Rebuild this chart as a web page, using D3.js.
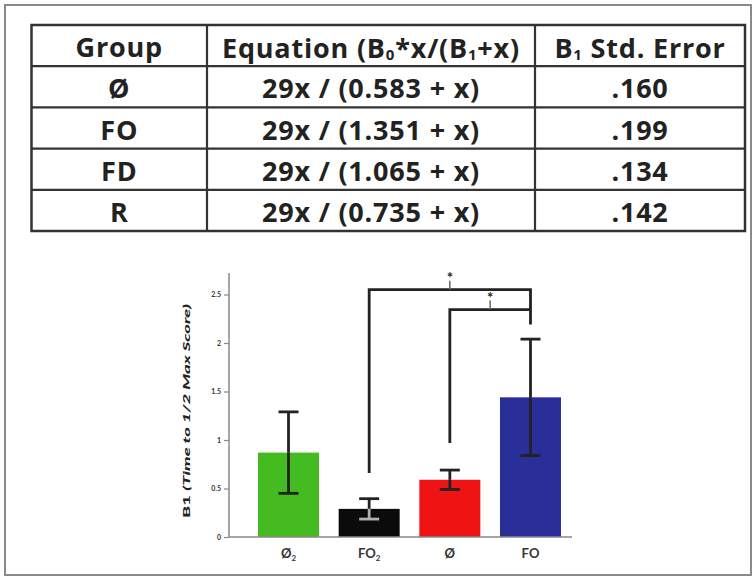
<!DOCTYPE html>
<html><head><meta charset="utf-8">
<script src="https://cdn.jsdelivr.net/npm/d3@7/dist/d3.min.js"></script>
<style>html,body{margin:0;padding:0;background:#fff}svg{display:block}</style>
</head><body>
<svg id="c" width="756" height="576"></svg>
<script>
// ---- data ----
const tableGroups = ["Ø", "FO", "FD", "R"];
const tableB0 = 29;
const tableB1 = [0.583, 1.351, 1.065, 0.735];
const tableSE = [".160", ".199", ".134", ".142"];

const barCategories = ["Ø₂", "FO₂", "Ø", "FO"];
const barMeans = [0.87, 0.29, 0.59, 1.44];
const barErrors = [0.42, 0.105, 0.10, 0.60];
const yTicks = [0, 0.5, 1, 1.5, 2, 2.5];
const yTickLabels = ["0", "0.5", "1", "1.5", "2", "2.5"];
const brackets = [
  {from: "FO₂", to: "FO", level: 2.55, leftEnd: 0.66, rightEnd: 2.19, label: "*"},
  {from: "Ø", to: "FO", level: 2.345, leftEnd: 0.97, rightEnd: 2.345, label: "*"}
];

// ---- styles ----
const barColors = ["#45bb22", "#0b0b0b", "#ee1414", "#2a2e98"];
const ink = "#222";
const svg = d3.select("#c");
const font = "Lato, 'Open Sans', sans-serif";
const tableFont = "'Open Sans', Lato, sans-serif";

// outer frame
svg.append("rect").attr("x", 5).attr("y", 5).attr("width", 746).attr("height", 570)
  .attr("fill", "#fff").attr("stroke", "#8a8a8a").attr("stroke-width", 2);

// ---- table ----
const tX0 = 31.5, tX1 = 745, tY0 = 25, rowH = 41.2;
const colEdges = [tX0, 207, 535, tX1];
const nRows = tableGroups.length + 1;
const tg = svg.append("g");
tg.append("rect").attr("x", tX0).attr("y", tY0).attr("width", tX1 - tX0).attr("height", rowH * nRows)
  .attr("fill", "none").attr("stroke", "#333").attr("stroke-width", 2.5);
for (let i = 1; i < nRows; i++) {
  tg.append("line").attr("x1", tX0).attr("x2", tX1).attr("y1", tY0 + i * rowH).attr("y2", tY0 + i * rowH)
    .attr("stroke", "#333").attr("stroke-width", 2.2);
}
[colEdges[1], colEdges[2]].forEach(x => {
  tg.append("line").attr("x1", x).attr("x2", x).attr("y1", tY0).attr("y2", tY0 + rowH * nRows)
    .attr("stroke", "#333").attr("stroke-width", 2.2);
});
const colCenter = i => (colEdges[i] + colEdges[i + 1]) / 2;
function cellText(col, row) {
  return tg.append("text").attr("x", colCenter(col)).attr("y", tY0 + row * rowH + rowH / 2 + 1)
    .attr("text-anchor", "middle").attr("dominant-baseline", "central")
    .attr("font-family", tableFont).attr("font-weight", "bold").attr("font-size", 27)
    .attr("letter-spacing", 0.8).attr("fill", ink);
}
cellText(0, 0).text("Group");
const h2 = cellText(1, 0);
h2.append("tspan").text("Equation (B");
h2.append("tspan").attr("font-size", 15).attr("dy", 7).text("0");
h2.append("tspan").attr("dy", -7).text("*x/(B");
h2.append("tspan").attr("font-size", 15).attr("dy", 7).text("1");
h2.append("tspan").attr("dy", -7).text("+x)");
const h3 = cellText(2, 0);
h3.append("tspan").text("B");
h3.append("tspan").attr("font-size", 15).attr("dy", 7).text("1");
h3.append("tspan").attr("dy", -7).text(" Std. Error");
tableGroups.forEach((g, i) => {
  cellText(0, i + 1).text(g);
  cellText(1, i + 1).text(`${tableB0}x / (${tableB1[i].toFixed(3)} + x)`);
  cellText(2, i + 1).text(tableSE[i]);
});

// ---- bar chart ----
const axisX = 229, baseY = 537;
const y = d3.scaleLinear().domain([0, 2.5]).range([baseY, 294.5]);
const x = d3.scalePoint().domain(barCategories).range([288.5, 530.5]);
const barW = 61;
const cg = svg.append("g");

// bars
cg.selectAll("rect.bar").data(barCategories).join("rect").attr("class", "bar")
  .attr("x", d => x(d) - barW / 2).attr("width", barW)
  .attr("y", (d, i) => y(barMeans[i])).attr("height", (d, i) => baseY - y(barMeans[i]))
  .attr("fill", (d, i) => barColors[i]);

// error bars
barCategories.forEach((c, i) => {
  const cx = x(c), top = y(barMeans[i] + barErrors[i]), bot = y(barMeans[i] - barErrors[i]), mid = y(barMeans[i]);
  const lowCol = i === 1 ? "#b0b0b0" : ink;
  cg.append("line").attr("x1", cx).attr("x2", cx).attr("y1", top).attr("y2", mid).attr("stroke", ink).attr("stroke-width", 2.8);
  cg.append("line").attr("x1", cx).attr("x2", cx).attr("y1", mid).attr("y2", bot).attr("stroke", lowCol).attr("stroke-width", 2.8);
  cg.append("line").attr("x1", cx - 10).attr("x2", cx + 10).attr("y1", top).attr("y2", top).attr("stroke", ink).attr("stroke-width", 2.8);
  cg.append("line").attr("x1", cx - 10).attr("x2", cx + 10).attr("y1", bot).attr("y2", bot).attr("stroke", lowCol).attr("stroke-width", 2.8);
});

// axes
const yAxis = d3.axisLeft(y).tickValues(yTicks).tickFormat((d, i) => yTickLabels[i]).tickSize(5).tickPadding(3);
const ya = cg.append("g").attr("transform", `translate(${axisX},0)`).call(yAxis);
ya.select(".domain").remove();
ya.append("line").attr("x1", 0).attr("x2", 0).attr("y1", baseY).attr("y2", 273).attr("stroke", "#888").attr("stroke-width", 1.5);
ya.selectAll(".tick line").attr("stroke", "#888").attr("stroke-width", 1.2);
ya.selectAll(".tick text").attr("font-family", font).attr("font-weight", "bold").attr("font-size", 7).attr("fill", "#333");

cg.append("line").attr("x1", axisX).attr("x2", 572).attr("y1", baseY).attr("y2", baseY).attr("stroke", "#888").attr("stroke-width", 1.5);

// x labels
const xl = cg.append("g").selectAll("text").data(barCategories).join("text")
  .attr("x", d => x(d)).attr("y", 558).attr("text-anchor", "middle")
  .attr("font-family", font).attr("font-weight", "bold").attr("font-size", 13).attr("fill", "#333");
xl.each(function(d) {
  const t = d3.select(this);
  const sub = d.match(/[₀-₉]$/);
  if (sub) {
    t.append("tspan").text(d.slice(0, -1));
    t.append("tspan").attr("font-size", 8).attr("dy", 3).text(String("₀₁₂₃₄₅₆₇₈₉".indexOf(sub[0])));
  } else t.text(d);
});

// y label
const yl = cg.append("text").attr("transform", "translate(190,411) rotate(-90)")
  .attr("text-anchor", "middle").attr("font-family", font).attr("font-weight", "900")
  .attr("font-size", 10).attr("fill", "#222").attr("textLength", 214).attr("lengthAdjust", "spacingAndGlyphs");
yl.append("tspan").text("B1 ");
yl.append("tspan").attr("font-style", "italic").text("(Time to 1/2 Max Score)");

// significance brackets
brackets.forEach(b => {
  const x1 = x(b.from), x2 = x(b.to), yl0 = y(b.level);
  cg.append("path")
    .attr("d", `M${x1},${y(b.leftEnd)}V${yl0}H${x2}V${y(b.rightEnd)}`)
    .attr("fill", "none").attr("stroke", ink).attr("stroke-width", 2.8);
  const mx = (x1 + x2) / 2;
  cg.append("line").attr("x1", mx).attr("x2", mx).attr("y1", yl0 - 9).attr("y2", yl0).attr("stroke", "#666").attr("stroke-width", 1.5);
  cg.append("text").attr("x", mx).attr("y", yl0 - 7).attr("text-anchor", "middle")
    .attr("font-family", font).attr("font-weight", "bold").attr("font-size", 15).attr("fill", ink).text(b.label);
});
</script>
</body></html>
